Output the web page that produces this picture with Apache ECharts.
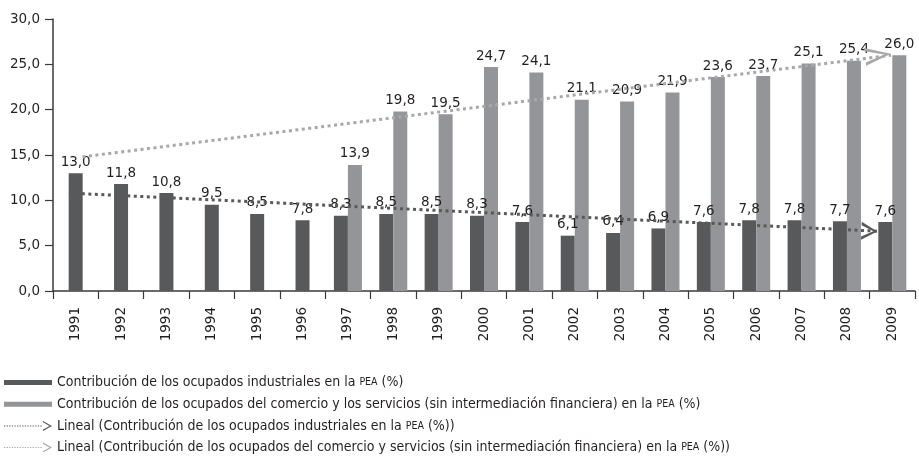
<!DOCTYPE html>
<html>
<head>
<meta charset="utf-8">
<script src="https://cdn.jsdelivr.net/npm/echarts@6/dist/echarts.min.js"></script>
<style>
  html, body { margin: 0; padding: 0; background: #fff; }
  #chart { width: 919px; height: 459px; }
</style>
</head>
<body>
<div id="chart"></div>
<script>
// años del eje x
const years = ['1991', '1992', '1993', '1994', '1995', '1996', '1997', '1998', '1999', '2000',
  '2001', '2002', '2003', '2004', '2005', '2006', '2007', '2008', '2009'];

// contribución de los ocupados industriales en la PEA (%)
const industriales = [13.0, 11.8, 10.8, 9.5, 8.5, 7.8, 8.3, 8.5, 8.5, 8.3,
  7.6, 6.1, 6.4, 6.9, 7.6, 7.8, 7.8, 7.7, 7.6];

// contribución de los ocupados del comercio y los servicios (%)
const comercio = [null, null, null, null, null, null, 13.9, 19.8, 19.5, 24.7,
  24.1, 21.1, 20.9, 21.9, 23.6, 23.7, 25.1, 25.4, 26.0];

// líneas de tendencia: valor al inicio (1991) y al final (2009)
const trendIndustriales = [10.8, 6.6];
const trendComercio = [14.8, 26.0];

const yMin = 0, yMax = 30, yStep = 5;

const names = [
  'Contribución de los ocupados industriales en la PEA (%)',
  'Contribución de los ocupados del comercio y los servicios (sin intermediación financiera) en la PEA (%)',
  'Lineal (Contribución de los ocupados industriales en la PEA (%))',
  'Lineal (Contribución de los ocupados del comercio y servicios (sin intermediación financiera) en la PEA (%))'
];

const dark = '#58595b';
const light = '#939598';
const trendLight = '#a7a8aa';
const txt = '#231f20';
const font = "'DejaVu Sans', sans-serif";
const narrow = "'Liberation Sans Narrow', 'DejaVu Sans Condensed', 'Arial Narrow', sans-serif";

const fmt = v => v.toFixed(1).replace('.', ',');

// barras solas (años sin dato de comercio) van centradas en su propio eje oculto
const soloInd = industriales.map((v, i) => comercio[i] == null ? v : null);
const parInd = industriales.map((v, i) => comercio[i] == null ? null : v);

const chevron = 'path://M0,0 L26,9 L0,18 L0,14.6 L19.5,9 L0,3.4 Z';

// iconos de la leyenda
let dots = '';
for (let x = 0; x < 38; x += 2.6) dots += 'M' + x + ',4.5 h1.3 v1 h-1.3 Z ';
const trendIcon = 'path://' + dots + 'M39,0 L48,5 L39,10 L39,8.6 L45.6,5 L39,1.4 Z';
const barIcon = 'path://M0,0 H48 V5 H0 Z';

function trendData(t, off, arrowSize, rot) {
  return [
    { value: [0.5 + off, t[0]], symbol: 'none' },
    {
      value: [years.length - 0.5 + off - 0.18, t[1]],
      symbol: chevron, symbolSize: arrowSize, symbolRotate: rot,
      symbolOffset: [-arrowSize[0] / 2, 0]
    }
  ];
}

const barLabel = {
  show: true, position: 'top', distance: 4,
  color: txt, fontFamily: font, fontSize: 13.5,
  formatter: p => fmt(p.value)
};

const chart = echarts.init(document.getElementById('chart'), null, { renderer: 'canvas' });

chart.setOption({
  animation: false,
  backgroundColor: '#fff',
  grid: { left: 53, right: 4, top: 19, bottom: 168, containLabel: false },
  legend: {
    orient: 'vertical', left: 4, top: 375.5, height: 83, padding: 0,
    itemWidth: 48, itemHeight: 10, itemGap: 7.7,
    symbolKeepAspect: true,
    selectedMode: false,
    textStyle: {
      color: txt, fontFamily: narrow, fontSize: 14,
      rich: { s: { fontFamily: narrow, fontSize: 10.5, color: txt } }
    },
    formatter: name => name.replace('PEA', '{s|PEA}'),
    data: [
      { name: names[0], icon: barIcon, itemStyle: { color: dark } },
      { name: names[1], icon: barIcon, itemStyle: { color: light } },
      { name: names[2], icon: trendIcon, itemStyle: { color: dark, borderWidth: 0 } },
      { name: names[3], icon: trendIcon, itemStyle: { color: trendLight, borderWidth: 0 } }
    ]
  },
  xAxis: [
    {
      type: 'category', data: years,
      axisLine: { lineStyle: { color: '#3a3a3a', width: 1.5 } },
      axisTick: { show: true, length: 8, lineStyle: { color: '#3a3a3a', width: 1.2 } },
      axisLabel: {
        rotate: 90, margin: 16, interval: 0,
        color: txt, fontFamily: font, fontSize: 13.5
      }
    },
    { type: 'category', data: years, show: false },
    { type: 'value', min: 0, max: years.length, show: false }
  ],
  yAxis: {
    type: 'value', min: yMin, max: yMax, interval: yStep,
    axisLine: { show: true, lineStyle: { color: '#3a3a3a', width: 1.5 } },
    axisTick: { show: true, length: 8, lineStyle: { color: '#3a3a3a', width: 1.2 } },
    splitLine: { show: false },
    axisLabel: {
      margin: 13, color: txt, fontFamily: font, fontSize: 13.5,
      formatter: v => fmt(v)
    }
  },
  series: [
    {
      name: names[0], type: 'bar', xAxisIndex: 0, data: parInd,
      barWidth: 14, barGap: '0%', itemStyle: { color: dark }, label: barLabel
    },
    {
      name: names[1], type: 'bar', xAxisIndex: 0, data: comercio,
      barWidth: 14, barGap: '0%', itemStyle: { color: light }, label: barLabel
    },
    {
      name: names[0], type: 'bar', xAxisIndex: 1, data: soloInd,
      barWidth: 14, itemStyle: { color: dark }, label: barLabel
    },
    {
      name: names[2], type: 'line', xAxisIndex: 2, z: 5,
      data: trendData(trendIndustriales, -0.15, [16, 18], -2.7),
      lineStyle: { color: dark, width: 3, type: [3, 3.5] },
      itemStyle: { color: dark },
      label: { show: false }
    },
    {
      name: names[3], type: 'line', xAxisIndex: 2, z: 5,
      data: trendData(trendComercio, 0.15, [26, 18], 7.2),
      lineStyle: { color: trendLight, width: 3, type: [3, 3.5] },
      itemStyle: { color: trendLight },
      label: { show: false }
    }
  ]
});
</script>
</body>
</html>
